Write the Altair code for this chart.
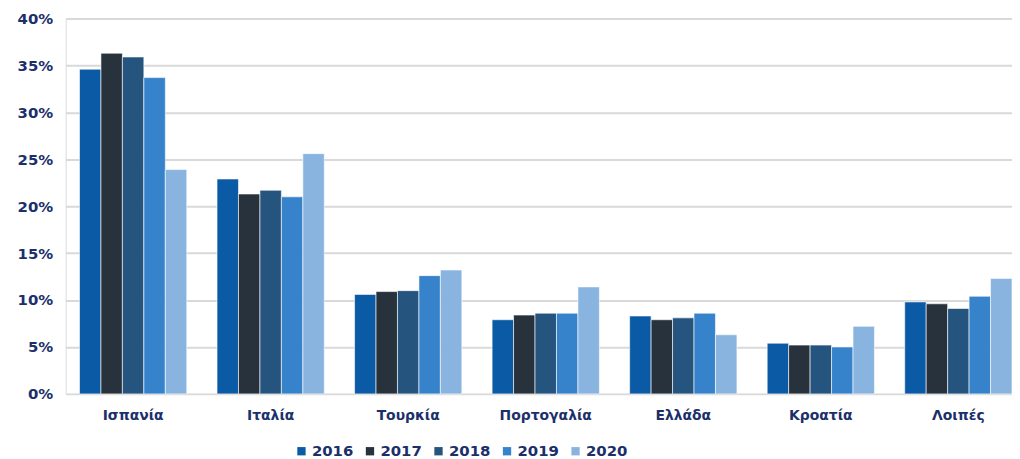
import altair as alt
import pandas as pd

categories = ["Ισπανία", "Ιταλία", "Τουρκία", "Πορτογαλία", "Ελλάδα", "Κροατία", "Λοιπές"]
years = ["2016", "2017", "2018", "2019", "2020"]
v2016 = [34.6, 22.9, 10.6, 7.9, 8.3, 5.4, 9.8]
v2017 = [36.3, 21.3, 10.9, 8.4, 7.9, 5.2, 9.6]
v2018 = [35.9, 21.7, 11.0, 8.6, 8.1, 5.2, 9.1]
v2019 = [33.7, 21.0, 12.6, 8.6, 8.6, 5.0, 10.4]
v2020 = [23.9, 25.6, 13.2, 11.4, 6.3, 7.2, 12.3]
colors = ["#0A5AA5", "#28323C", "#25547F", "#3682CB", "#89B4E0"]

series = [v2016, v2017, v2018, v2019, v2020]
rows = []
for y, vals in zip(years, series):
    for c, v in zip(categories, vals):
        rows.append({"cat": c, "year": y, "value": v / 100})
df = pd.DataFrame(rows)

text_color = "#1B2F6B"
font = "DejaVu Sans"

chart = alt.Chart(df).mark_bar(stroke="white", strokeWidth=0.6).encode(
    x=alt.X("cat:N", sort=categories, title=None,
            scale=alt.Scale(paddingInner=0.22, paddingOuter=0.0505, align=1),
            axis=alt.Axis(labelAngle=0, labelFont=font, labelFontWeight="bold",
                          labelFontSize=14, labelColor=text_color, ticks=False,
                          domain=False, labelPadding=15)),
    xOffset=alt.XOffset("year:N", sort=years, scale=alt.Scale(paddingInner=0)),
    y=alt.Y("value:Q", title=None,
            scale=alt.Scale(domain=[0, 0.4], nice=False),
            axis=alt.Axis(format=".0%", values=[0, 0.05, 0.1, 0.15, 0.2, 0.25, 0.3, 0.35, 0.4],
                          labelFont=font, labelFontWeight="bold", labelFontSize=15,
                          labelColor=text_color, ticks=False, domain=False,
                          gridColor="#D9D9D9", gridWidth=2, labelPadding=13)),
    color=alt.Color("year:N", sort=years, title=None,
                    scale=alt.Scale(domain=years, range=colors),
                    legend=alt.Legend(orient="none", legendX=230, legendY=428,
                                      direction="horizontal", symbolType="square",
                                      symbolSize=70, symbolStrokeWidth=0,
                                      labelFont=font, labelFontWeight="bold",
                                      labelFontSize=15, labelColor=text_color,
                                      columnPadding=9, labelOffset=3)),
).properties(
    width=953, height=378,
    autosize=alt.AutoSizeParams(type="none"),
    padding={"left": 58, "top": 9, "right": 0, "bottom": 64},
).configure_view(stroke=None).configure(background="white")

chart.save("out.html", embed_options={"renderer": "svg", "actions": False})
